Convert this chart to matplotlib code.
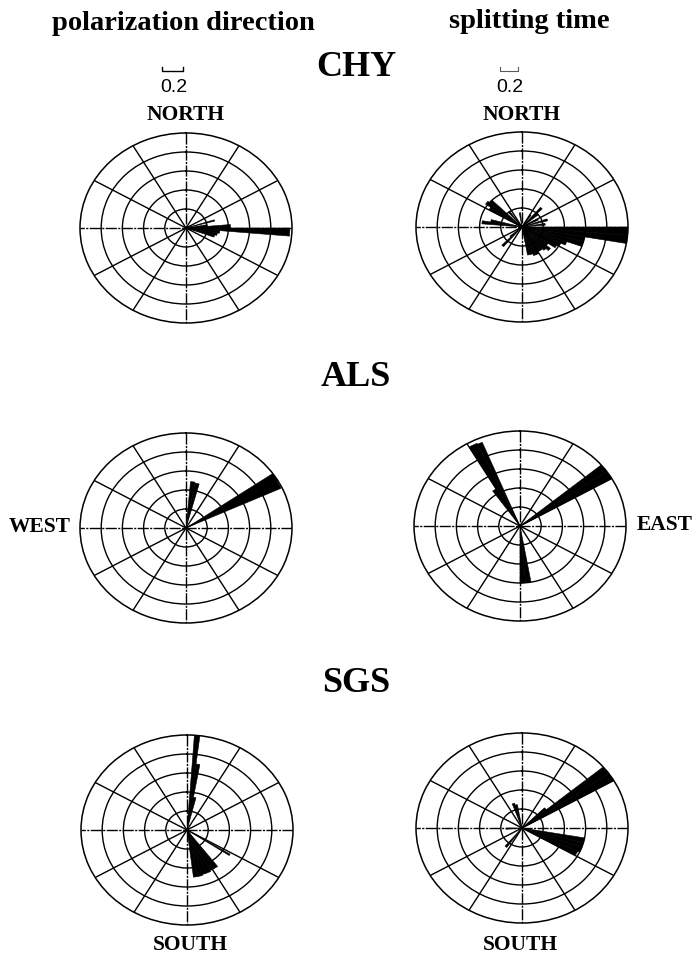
import numpy as np
import matplotlib
matplotlib.use('Agg')
import matplotlib.pyplot as plt
from matplotlib.lines import Line2D

# Rose bins for each station: start azimuth (deg), bin width (deg), normalized frequency
chy_pol_start = [72, 80, 85, 90, 95, 100, 105]
chy_pol_width = [3, 5, 5, 5, 5, 5, 5]
chy_pol_freq = [0.28, 0.2, 0.42, 0.98, 0.32, 0.3, 0.28]

chy_dt_start = [30, 40, 45, 60, 70, 80, 90, 95, 100, 105, 110, 115, 120, 125, 130, 135,
                140, 145, 150, 155, 160, 165, 220, 225, 275, 280, 300, 305, 310, 320, 350]
chy_dt_width = [5] * len(chy_dt_start)
chy_dt_freq = [0.15, 0.27, 0.2, 0.17, 0.25, 0.22, 1.0, 1.0, 0.6, 0.6, 0.45, 0.4, 0.38, 0.3,
               0.35, 0.32, 0.3, 0.3, 0.32, 0.32, 0.3, 0.3, 0.27, 0.15, 0.38, 0.3, 0.36, 0.42,
               0.4, 0.2, 0.15]

als_pol_start = [5, 10, 55, 60]
als_pol_width = [5, 5, 5, 5]
als_pol_freq = [0.49, 0.48, 1.0, 0.99]

als_dt_start = [325, 330, 335, 50, 55, 170, 175]
als_dt_width = [5, 5, 3, 5, 5, 5, 5]
als_dt_freq = [0.45, 0.96, 0.95, 1.0, 1.0, 0.6, 0.6]

sgs_pol_start = [4, 7, 10, 122, 143, 148, 153, 158, 163, 168]
sgs_pol_width = [3, 3, 4, 2, 5, 5, 5, 5, 5, 5]
sgs_pol_freq = [1.0, 0.7, 0.35, 0.48, 0.48, 0.48, 0.49, 0.49, 0.5, 0.5]

sgs_dt_start = [45, 50, 55, 100, 105, 110, 115, 215, 265, 340, 345]
sgs_dt_width = [5] * len(sgs_dt_start)
sgs_dt_freq = [0.3, 1.0, 1.0, 0.6, 0.6, 0.6, 0.58, 0.25, 0.15, 0.27, 0.25]

W, H = 696, 957
RX, RY = 106, 95

fig = plt.figure(figsize=(W / 100, H / 100), dpi=100)
fig.patch.set_facecolor('white')

serif = ['Liberation Serif', 'DejaVu Serif']
sans = ['Liberation Sans', 'DejaVu Sans']


def fx(x):
    return x / W


def fy(y):
    return 1 - y / H


def rose(cx, cy, start, width, freq):
    ax = fig.add_axes([fx(cx - RX), fy(cy + RY), 2 * RX / W, 2 * RY / H], projection='polar')
    ax.set_aspect('auto')
    ax.set_theta_zero_location('N')
    ax.set_theta_direction(-1)
    ax.set_ylim(0, 1.0)
    ax.set_yticks([0.2, 0.4, 0.6, 0.8])
    ax.set_yticklabels([])
    ax.set_xticks(np.deg2rad([30, 60, 120, 150, 210, 240, 300, 330]))
    ax.set_xticklabels([])
    ax.grid(True, color='black', lw=1.0)
    ax.spines['polar'].set_linewidth(1.1)
    ax.set_facecolor('white')

    # N-S and E-W axes, drawn a little broken like the other lines
    for a in [0, 90]:
        t = np.deg2rad(a)
        ax.plot([t, t + np.pi], [1.0, 1.0], color='black', lw=1.0,
                ls=(0, (8, 1.0, 1.5, 1.0)), zorder=2)

    ax.bar(np.deg2rad(start), freq, width=np.deg2rad(width), align='edge',
           color='black', edgecolor='black', lw=0.4, zorder=3)
    return ax


rose(186, 228, chy_pol_start, chy_pol_width, chy_pol_freq)
rose(522, 227, chy_dt_start, chy_dt_width, chy_dt_freq)
rose(186, 528, als_pol_start, als_pol_width, als_pol_freq)
rose(520, 526, als_dt_start, als_dt_width, als_dt_freq)
rose(187, 830, sgs_pol_start, sgs_pol_width, sgs_pol_freq)
rose(522, 828, sgs_dt_start, sgs_dt_width, sgs_dt_freq)

# column headers and station names
fig.text(fx(183), fy(24), 'polarization direction', family=serif, weight='bold',
         fontsize=20.5, ha='center', va='center')
fig.text(fx(529), fy(22), 'splitting time', family=serif, weight='bold',
         fontsize=20.5, ha='center', va='center')
for name, y in [('CHY', 67), ('ALS', 377), ('SGS', 683)]:
    fig.text(fx(356), fy(y), name, family=serif, weight='bold', fontsize=26,
             ha='center', va='center')

# direction labels
for txt, x, y in [('NORTH', 186, 115), ('NORTH', 522, 115), ('WEST', 40, 527),
                  ('EAST', 665, 525), ('SOUTH', 190, 945), ('SOUTH', 520, 945)]:
    fig.text(fx(x), fy(y), txt, family=serif, weight='bold', fontsize=15.5,
             ha='center', va='center')

# 0.2 scale bars
for x0, x1, col, lw in [(162, 183, 'black', 1.0), (500, 518, '0.35', 0.8)]:
    fig.add_artist(Line2D([fx(x0), fx(x0), fx(x1), fx(x1)], [fy(67), fy(71), fy(71), fy(67)],
                          color=col, lw=lw))
    fig.text(fx((x0 + x1) / 2 + 1), fy(87), '0.2', family=sans, fontsize=14,
             ha='center', va='center')

fig.savefig('out.png', dpi=100, facecolor='white')
